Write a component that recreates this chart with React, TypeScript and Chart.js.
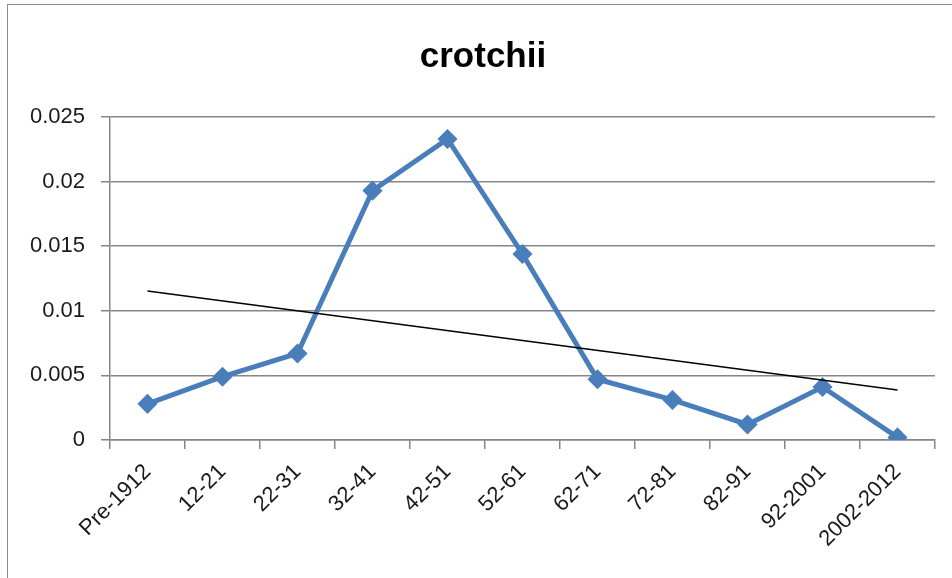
import React, { useEffect, useRef } from "react";
import { Chart, registerables } from "chart.js";

Chart.register(...registerables);

const categories = ["Pre-1912", "12-21", "22-31", "32-41", "42-51", "52-61", "62-71", "72-81", "82-91", "92-2001", "2002-2012"];
const values = [0.0028, 0.0049, 0.0067, 0.0193, 0.0233, 0.0144, 0.0047, 0.0031, 0.0012, 0.0041, 0.0002];
const trendValues = [0.01153, null, null, null, null, null, null, null, null, null, 0.00387];
const yTicks = [0, 0.005, 0.01, 0.015, 0.02, 0.025];
const title = "crotchii";

export default function App() {
  const ref = useRef<HTMLCanvasElement | null>(null);
  useEffect(() => {
    if (!ref.current) return;
    const chart = new Chart(ref.current, {
      type: "line",
      data: {
        labels: categories,
        datasets: [
          {
            label: "trend",
            data: trendValues,
            spanGaps: true,
            borderColor: "#000000",
            borderWidth: 1.5,
            pointRadius: 0,
            fill: false,
          },
          {
            label: "crotchii",
            data: values,
            borderColor: "#4a7ebb",
            backgroundColor: "#4a7ebb",
            borderWidth: 5,
            pointStyle: "rectRot",
            pointRadius: 9,
            pointBorderWidth: 1.5,
            pointBorderColor: "#4a7ebb",
            pointBackgroundColor: "#4a7ebb",
            tension: 0,
            fill: false,
          },
        ],
      },
      options: {
        animation: false,
        responsive: false,
        layout: { padding: { top: 117, right: 17, bottom: 0, left: 0 } },
        plugins: {
          legend: { display: false },
          tooltip: { enabled: false },
          title: { display: false },
        },
        scales: {
          x: {
            type: "category",
            offset: true,
            grid: {
              offset: true,
              drawOnChartArea: false,
              drawTicks: true,
              tickLength: 9,
              color: "#868686",
              lineWidth: 1.5,
            },
            border: { display: true, color: "#868686", width: 1.5 },
            ticks: {
              minRotation: 45,
              maxRotation: 45,
              autoSkip: false,
              padding: 10,
              color: "#1a1a1a",
              font: { family: "Liberation Sans", size: 22 },
            },
            afterFit: (scale: any) => {
              scale.height = 138;
            },
          },
          y: {
            min: 0,
            max: 0.025,
            afterBuildTicks: (scale: any) => {
              scale.ticks = yTicks.map((v) => ({ value: v }));
            },
            grid: {
              color: "#868686",
              lineWidth: 1.5,
              tickLength: 9,
            },
            border: { display: true, color: "#868686", width: 1.5 },
            ticks: {
              padding: 16,
              color: "#1a1a1a",
              font: { family: "Liberation Sans", size: 22 },
              callback: (v: any) => String(Number(v)),
            },
            afterFit: (scale: any) => {
              scale.width = 110;
            },
          },
        },
      },
    });
    return () => chart.destroy();
  }, []);
  return (
    <div style={{ position: "fixed", left: 0, top: 0, width: 952, height: 578, background: "#ffffff", overflow: "hidden" }}>
      <div style={{ position: "absolute", left: 7, top: 4, width: 980, height: 620, border: "1.5px solid #8c8c8c" }} />
      <canvas ref={ref} width={952} height={578} style={{ position: "absolute", left: 0, top: 0 }} />
      <div
        style={{
          position: "absolute",
          left: 383,
          width: 200,
          top: 37,
          textAlign: "center",
          fontFamily: "Liberation Sans",
          fontWeight: "bold",
          fontSize: 35,
          lineHeight: "35px",
          color: "#000000",
        }}
      >
        {title}
      </div>
    </div>
  );
}
